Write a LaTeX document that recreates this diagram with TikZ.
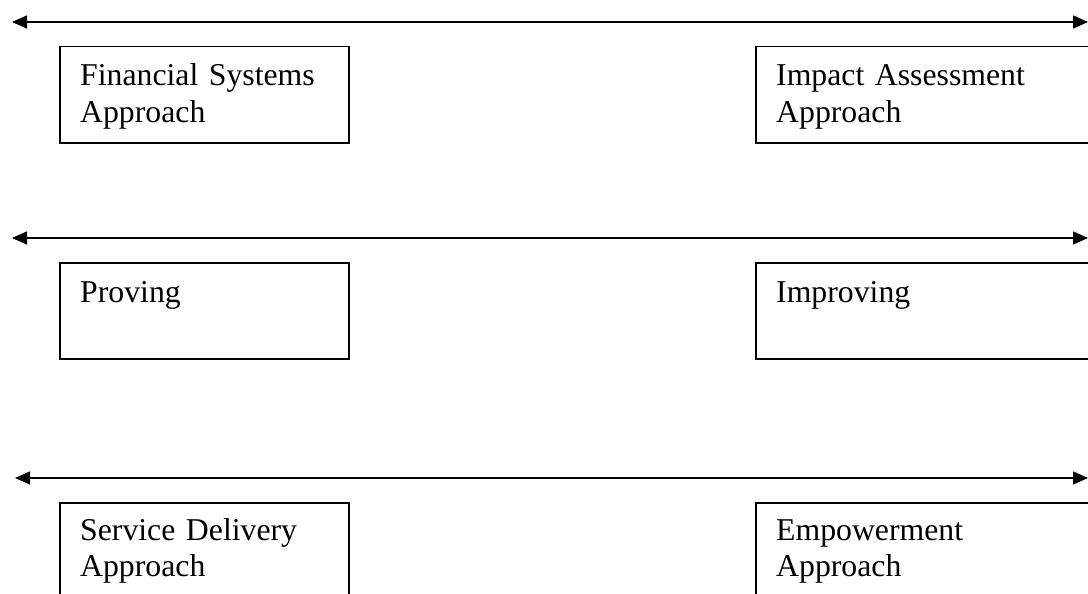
\documentclass[tikz,border=0pt]{standalone}
\usepackage{fontspec}
\setmainfont{Liberation Serif}
\usetikzlibrary{arrows.meta}
\begin{document}
\begin{tikzpicture}[x=1pt,y=-1pt,
  box/.style={draw, line width=1.5pt, minimum width=289pt, minimum height=96pt, anchor=north west, inner sep=0pt},
  rbox/.style={box, minimum width=400pt},
  lbl/.style={anchor=base west, inner sep=0pt, text width=320pt, align=left, font=\fontsize{31.75}{36}\selectfont},
  dbl/.style={{Triangle[length=15pt,width=13pt]}-{Triangle[length=15pt,width=13pt]}, line width=1.5pt}]
\useasboundingbox (0,0) rectangle (1088,594);
\clip (0,0) rectangle (1088,594);
\fill[white] (0,0) rectangle (1088,594);
% arrows
\coordinate (a1l) at (12,22);  \coordinate (a1r) at (1088,22);
\coordinate (a2l) at (12,238); \coordinate (a2r) at (1088,238);
\coordinate (a3l) at (15,478); \coordinate (a3r) at (1088,478);
\draw[dbl] (a1l) -- (a1r);
\draw[dbl] (a2l) -- (a2r);
\draw[dbl] (a3l) -- (a3r);
% boxes
\node[box] (b1l) at (59,46) {};
\node[rbox] (b1r) at (755,46) {};
\node[box] (b2l) at (59,262) {};
\node[rbox] (b2r) at (755,262) {};
\node[box, minimum height=130pt] (b3l) at (59,502) {};
\node[rbox, minimum height=130pt] (b3r) at (755,502) {};
% texts
\node[lbl] (t1l) at (80,86) {Financial Systems\\Approach};
\node[lbl] (t1r) at (776,86) {Impact Assessment\\Approach};
\node[lbl] (t2l) at (80,302.5) {Proving};
\node[lbl] (t2r) at (776,302.5) {Improving};
\node[lbl] (t3l) at (80,540) {Service Delivery\\Approach};
\node[lbl] (t3r) at (776,540) {Empowerment\\Approach};
\end{tikzpicture}
\end{document}
